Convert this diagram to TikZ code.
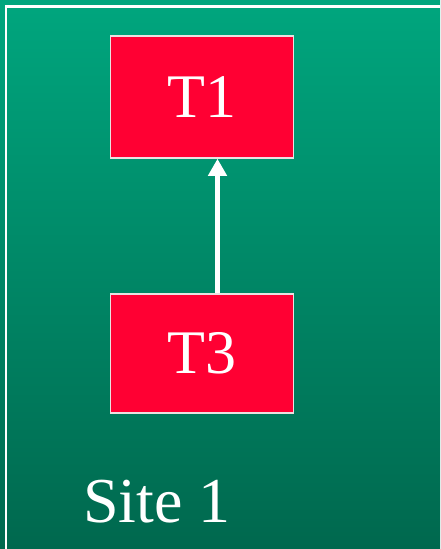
\documentclass[tikz,border=0pt]{standalone}
\usepackage{fontspec}
\setmainfont{Liberation Serif}
\usetikzlibrary{arrows.meta}
\definecolor{sitetop}{RGB}{0,166,126}
\definecolor{sitebottom}{RGB}{0,104,78}
\definecolor{taskred}{RGB}{255,0,51}
\definecolor{taskedge}{RGB}{235,225,225}
\tikzset{
  x=1pt, y=1pt,
  taskbox/.style={draw=taskedge, line width=1.5pt, fill=taskred, text=white,
    minimum width=183pt, inner sep=0pt,
    font=\fontsize{62}{70}\selectfont},
  depends/.style={draw=white, line width=5pt,
    -{Triangle[width=18pt,length=17pt]}},
  frameline/.style={draw=white, line width=2.5pt},
}
\begin{document}
\begin{tikzpicture}
  % background with vertical shading
  \shade[top color=sitetop, bottom color=sitebottom] (0,0) rectangle (440,-549);
  \useasboundingbox (0,0) rectangle (440,-549);
  % site frame (open towards the right and bottom)
  \draw[frameline] (6,-549) -- (6,-6.5) -- (440,-6.5);
  % tasks
  \node[taskbox, minimum height=122pt] (t1) at (202,-97) {T1};
  \node[taskbox, minimum height=119pt] (t3) at (202,-353.5) {T3};
  % dependency
  \draw[depends] ([xshift=15.5pt]t3.north) -- ([xshift=15.5pt]t1.south);
  % site label
  \node[anchor=base west, inner sep=0pt, text=white,
        font=\fontsize{64}{70}\selectfont] (site) at (83,-522) {Site 1};
\end{tikzpicture}
\end{document}
